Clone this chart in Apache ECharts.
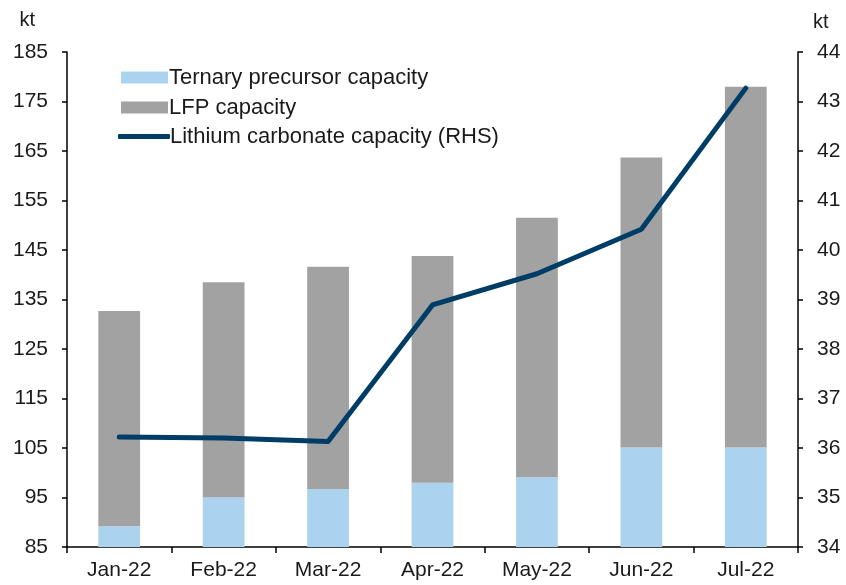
<!DOCTYPE html>
<html><head><meta charset="utf-8">
<script src="https://cdn.jsdelivr.net/npm/echarts@6/dist/echarts.min.js"></script>
<style>html,body{margin:0;padding:0;background:#fff}#c{width:846px;height:585px}</style>
</head><body><div id="c"></div>
<script>
var categories = ['Jan-22','Feb-22','Mar-22','Apr-22','May-22','Jun-22','Jul-22'];
var ternary = [89.2, 95.0, 96.7, 98.0, 99.1, 105.1, 105.1];
var lfp = [43.5, 43.5, 44.9, 45.8, 52.4, 58.6, 72.9];
var lithium = [36.22, 36.2, 36.13, 38.89, 39.52, 40.42, 43.27];
var leftTicks = {min: 85, max: 185, interval: 10};
var rightTicks = {min: 34, max: 44, interval: 1};

var font = 'Liberation Sans, Arial, sans-serif';
var fs = 21;
var lfs = 22;
var txt = '#1a1a1a';
var chart = echarts.init(document.getElementById('c'), null, {renderer: 'canvas'});
chart.setOption({
  animation: false,
  textStyle: {fontFamily: font},
  grid: {left: 67, right: 48, top: 52, bottom: 38},
  legend: [
    {
      left: 116, top: 61, orient: 'vertical',
      itemWidth: 47, itemHeight: 12, itemGap: 7,
      textStyle: {fontSize: lfs, color: txt, fontFamily: font, lineHeight: 23, padding: [0,0,0,-4]},
      data: [
        {name: 'Ternary precursor capacity', icon: 'rect'},
        {name: 'LFP capacity', icon: 'rect'}
      ]
    },
    {
      left: 113, top: 120, orient: 'vertical',
      itemWidth: 52, itemHeight: 5,
      textStyle: {fontSize: lfs, color: txt, fontFamily: font, lineHeight: 23, padding: [0,0,0,-5]},
      data: [{name: 'Lithium carbonate capacity (RHS)', icon: 'roundRect'}]
    }
  ],
  xAxis: {
    type: 'category', data: categories,
    axisLine: {lineStyle: {color: '#000', width: 1.5}},
    axisTick: {show: true, alignWithLabel: false, length: 6, lineStyle: {color: '#000', width: 1.5}},
    axisLabel: {fontSize: fs, color: txt, margin: 13, fontFamily: font}
  },
  yAxis: [
    {
      type: 'value', min: leftTicks.min, max: leftTicks.max, interval: leftTicks.interval,
      name: 'kt', nameGap: 22, nameTextStyle: {fontSize: fs - 1, color: txt, align: 'right', padding: [0, 32, 0, 0]},
      axisLine: {show: true, lineStyle: {color: '#000', width: 1.5}},
      axisTick: {show: true, length: 5, lineStyle: {color: '#000', width: 1.5}},
      axisLabel: {fontSize: fs, color: txt, margin: 19, fontFamily: font},
      splitLine: {show: false}
    },
    {
      type: 'value', min: rightTicks.min, max: rightTicks.max, interval: rightTicks.interval,
      name: 'kt', nameGap: 20, nameTextStyle: {fontSize: fs - 1, color: txt, align: 'left', padding: [0, 0, 0, 15]},
      position: 'right',
      axisLine: {show: true, lineStyle: {color: '#000', width: 1.5}},
      axisTick: {show: true, length: 5, lineStyle: {color: '#000', width: 1.5}},
      axisLabel: {fontSize: fs, color: txt, margin: 19, fontFamily: font},
      splitLine: {show: false}
    }
  ],
  series: [
    {
      name: 'Ternary precursor capacity', type: 'bar', stack: 'cap',
      data: ternary, barWidth: '40%',
      itemStyle: {color: '#abd3f0'}
    },
    {
      name: 'LFP capacity', type: 'bar', stack: 'cap',
      data: lfp, barWidth: '40%',
      itemStyle: {color: '#a2a2a2'}
    },
    {
      name: 'Lithium carbonate capacity (RHS)', type: 'line', yAxisIndex: 1,
      data: lithium, symbol: 'none', showSymbol: false,
      lineStyle: {color: '#003d66', width: 5, cap: 'round', join: 'round'},
      itemStyle: {color: '#003d66'}
    }
  ]
});
</script></body></html>
